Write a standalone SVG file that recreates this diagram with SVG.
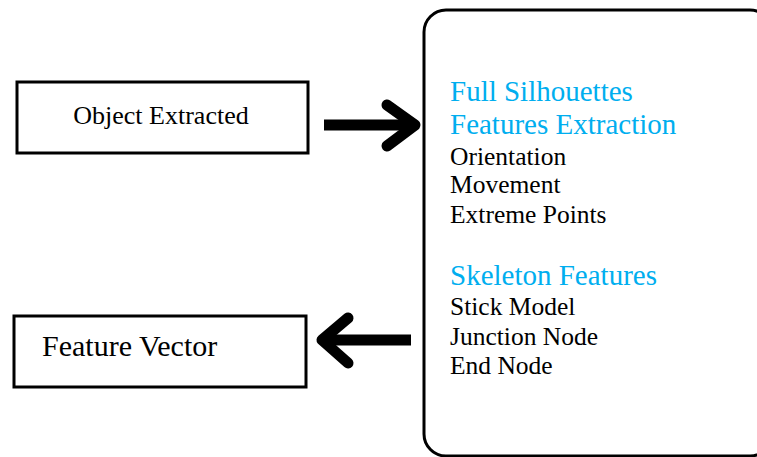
<svg xmlns="http://www.w3.org/2000/svg" width="757" height="457" viewBox="0 0 757 457">
  <style>
    .box { fill: #ffffff; stroke: #000000; stroke-width: 3; }
    .shaft { fill: none; stroke: #000000; stroke-width: 11; }
    .chevron { fill: none; stroke: #000000; stroke-width: 11; stroke-linecap: round; stroke-linejoin: round; }
    text { font-family: "Liberation Serif", "Times New Roman", serif; }
    .head { fill: #00aeef; font-size: 29px; }
    .item { fill: #000000; font-size: 25.5px; }
  </style>
  <rect width="757" height="457" fill="#ffffff"/>

  <g id="object-extracted">
    <rect class="box" x="17" y="82" width="291" height="71"/>
    <text x="161" y="124" text-anchor="middle" font-size="26" fill="#000">Object Extracted</text>
  </g>

  <g id="feature-vector">
    <rect class="box" x="14" y="316" width="292" height="71"/>
    <text x="42" y="356" font-size="30" fill="#000">Feature Vector</text>
  </g>

  <g id="features-panel">
    <rect class="box" x="424" y="10" width="348" height="446" rx="22" ry="22"/>
    <text class="head" x="450" y="101">Full Silhouettes</text>
    <text class="head" x="450" y="134">Features Extraction</text>
    <text class="item" x="450" y="165">Orientation</text>
    <text class="item" x="450" y="193">Movement</text>
    <text class="item" x="450" y="223">Extreme Points</text>
    <text class="head" x="450" y="285">Skeleton Features</text>
    <text class="item" x="450" y="315">Stick Model</text>
    <text class="item" x="450" y="345">Junction Node</text>
    <text class="item" x="450" y="374">End Node</text>
  </g>

  <g id="connectors">
    <path class="shaft" d="M 324 125 L 412 125"/>
    <path class="chevron" d="M 387 105 L 415 125 L 387 146"/>
    <path class="shaft" d="M 411 340 L 326 340"/>
    <path class="chevron" d="M 348 318 L 322 340 L 348 363"/>
  </g>
</svg>
